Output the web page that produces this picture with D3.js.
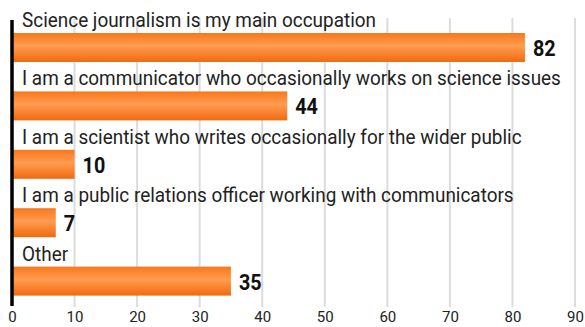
<!DOCTYPE html>
<html>
<head>
<meta charset="utf-8">
<script src="https://cdn.jsdelivr.net/npm/d3@7"></script>
<style>
  html, body { margin: 0; padding: 0; background: #fff; }
  svg { display: block; }
</style>
</head>
<body>
<svg id="chart" width="585" height="327"></svg>
<script>
// Survey answers: how respondents describe their role
const categories = [
  "Science journalism is my main occupation",
  "I am a communicator who occasionally works on science issues",
  "I am a scientist who writes occasionally for the wider public",
  "I am a public relations officer working with communicators",
  "Other"
];
const values = [82, 44, 10, 7, 35];
const tickValues = [0, 10, 20, 30, 40, 50, 60, 70, 80, 90];

const svg = d3.select("#chart");

const x = d3.scaleLinear().domain([0, 90]).range([12, 575]);
const band = d3.scaleBand()
  .domain(categories)
  .range([4, 296])
  .paddingInner(0)
  .paddingOuter(0);

// vertical gradient for the bars
const defs = svg.append("defs");
const grad = defs.append("linearGradient")
  .attr("id", "barGrad").attr("x1", 0).attr("y1", 0).attr("x2", 0).attr("y2", 1);
grad.append("stop").attr("offset", "0%").attr("stop-color", "#f8781c");
grad.append("stop").attr("offset", "45%").attr("stop-color", "#ff9c50");
grad.append("stop").attr("offset", "100%").attr("stop-color", "#f06a10");

// gridlines
svg.append("g").selectAll("line")
  .data(tickValues.filter(d => d > 0))
  .join("line")
  .attr("x1", d => x(d)).attr("x2", d => x(d))
  .attr("y1", 18).attr("y2", 307)
  .attr("stroke", "#dcdcdc").attr("stroke-width", 2);

// tick labels along the bottom
const axis = d3.axisBottom(x).tickValues(tickValues).tickSize(0).tickPadding(0);
const axisG = svg.append("g").attr("transform", "translate(0,322)").call(axis);
axisG.select(".domain").remove();
axisG.selectAll("text")
  .attr("y", 0)
  .attr("dy", 0)
  .attr("fill", "#222")
  .style("font-family", "Roboto, 'DejaVu Sans', sans-serif")
  .style("font-size", "15px");

const rows = svg.append("g").selectAll("g")
  .data(categories.map((c, i) => ({ c, v: values[i] })))
  .join("g")
  .attr("transform", d => `translate(0,${band(d.c)})`);

const barTop = 29, barH = 29;

// category labels above each bar
const labels = rows.append("text")
  .attr("x", 0).attr("y", 23)
  .attr("fill", "#222")
  .style("font-family", "Roboto, 'DejaVu Sans', sans-serif")
  .style("font-size", "20px")
  .text(d => d.c);

// condense the label text to a narrow face
const natural = labels.nodes()[0].getComputedTextLength();
const sx = 354 / natural;
labels.attr("transform", `translate(22,0) scale(${sx},1)`);

rows.append("rect")
  .attr("x", x(0))
  .attr("y", barTop)
  .attr("width", d => x(d.v) - x(0))
  .attr("height", barH)
  .attr("fill", "url(#barGrad)");

// value labels, slightly condensed
rows.append("text")
  .attr("transform", d => `translate(${x(d.v) + 8},${barTop + 23}) scale(0.9,1)`)
  .attr("fill", "#111")
  .style("font-family", "Roboto, 'DejaVu Sans', sans-serif")
  .style("font-weight", "700")
  .style("font-size", "22px")
  .text(d => d.v);

// left axis bar
svg.append("line")
  .attr("x1", x(0)).attr("x2", x(0))
  .attr("y1", 20).attr("y2", 306)
  .attr("stroke", "#000").attr("stroke-width", 3.5);
</script>
</body>
</html>
